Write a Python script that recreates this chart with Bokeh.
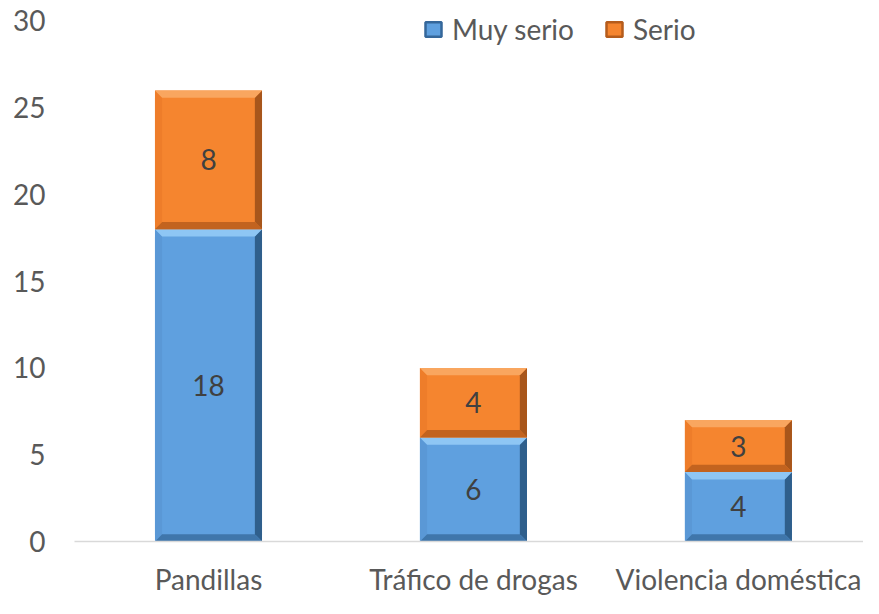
import numpy as np
from bokeh.plotting import figure
from bokeh.models import Range1d, FixedTicker, Legend, LegendItem, ColumnDataSource
from bokeh.core.properties import value
from bokeh.embed import file_html
from bokeh.resources import INLINE

categories = ["Pandillas", "Tráfico de drogas", "Violencia doméstica"]
muy_serio = [18, 6, 4]
serio = [8, 4, 3]
series_names = ["Muy serio", "Serio"]
y_ticks = [0, 5, 10, 15, 20, 25, 30]

FONT = "Lato"
TXT = "#595959"
LBL = "#404040"

p = figure(width=863, height=598, output_backend="svg", toolbar_location=None,
           x_range=Range1d(-0.5057, 2.472), y_range=Range1d(0, 31.18),
           min_border_left=74, min_border_right=0, min_border_top=0, min_border_bottom=57)
p.outline_line_color = None
p.xgrid.grid_line_color = None
p.ygrid.grid_line_color = None
p.background_fill_color = "white"
p.border_fill_color = "white"

# axes
p.yaxis.ticker = FixedTicker(ticks=y_ticks)
p.yaxis.axis_line_color = None
p.yaxis.major_tick_line_color = None
p.yaxis.minor_tick_line_color = None
p.yaxis.major_label_standoff = 23
p.yaxis.major_label_text_font = FONT
p.yaxis.major_label_text_font_size = "28px"
p.yaxis.major_label_text_color = TXT

xs = list(range(len(categories)))
p.xaxis.ticker = FixedTicker(ticks=xs)
p.xaxis.major_label_overrides = {i: c for i, c in enumerate(categories)}
p.xaxis.axis_line_color = "#d9d9d9"
p.xaxis.axis_line_width = 1.5
p.xaxis.major_tick_line_color = None
p.xaxis.minor_tick_line_color = None
p.xaxis.major_label_standoff = 14
p.xaxis.major_label_text_font = FONT
p.xaxis.major_label_text_font_size = "28px"
p.xaxis.major_label_text_color = TXT

bar_w = 0.404
dx = 0.027   # bevel depth (category units)
dy = 0.42    # bevel depth (value units)

palettes = {
    "Muy serio": dict(base="#5fa0df", top="#8ec6f4", left="#5a98d6", right="#2f5f8c",
                      bottom="#3f76ab", edge="#35679a"),
    "Serio": dict(base="#f5852f", top="#f9a65f", left="#ee7d2a", right="#a8561b",
                  bottom="#c2631f", edge="#b55c1c"),
}

def beveled(x_c, y0, y1, pal):
    x0 = np.array(x_c) - bar_w / 2
    x1 = np.array(x_c) + bar_w / 2
    y0 = np.array(y0, dtype=float)
    y1 = np.array(y1, dtype=float)
    src = ColumnDataSource(dict(left=x0, right=x1, bottom=y0, top=y1))
    p.quad(left="left", right="right", bottom="bottom", top="top", source=src,
           fill_color=pal["base"], line_color=None)
    top_x, top_y, lx, ly, rx, ry, bx, by = [], [], [], [], [], [], [], []
    for a, b, c, d in zip(x0, x1, y0, y1):
        top_x.append([a, b, b - dx, a + dx]); top_y.append([d, d, d - dy, d - dy])
        lx.append([a, a + dx, a + dx, a]); ly.append([c, c + dy, d - dy, d])
        rx.append([b, b - dx, b - dx, b]); ry.append([c, c + dy, d - dy, d])
        bx.append([a, b, b - dx, a + dx]); by.append([c, c, c + dy, c + dy])
    p.patches(lx, ly, fill_color=pal["left"], line_color=None)
    p.patches(rx, ry, fill_color=pal["right"], line_color=None)
    p.patches(bx, by, fill_color=pal["bottom"], line_color=None)
    p.patches(top_x, top_y, fill_color=pal["top"], line_color=None)
    # legend proxy (not drawn in the plot area: NaN data)
    leg = p.quad(left=[np.nan], right=[np.nan], bottom=[np.nan], top=[np.nan],
                 fill_color=pal["base"], line_color=pal["edge"], line_width=2.5)
    return leg

bottoms0 = [0] * len(categories)
tops0 = muy_serio
tops1 = [a + b for a, b in zip(muy_serio, serio)]

r_blue = beveled(xs, bottoms0, tops0, palettes["Muy serio"])
r_orange = beveled(xs, tops0, tops1, palettes["Serio"])

# data labels
lab_src = ColumnDataSource(dict(
    x=xs + xs,
    y=[v / 2 for v in muy_serio] + [m + s / 2 for m, s in zip(muy_serio, serio)],
    t=[str(v) for v in muy_serio] + [str(v) for v in serio],
))
p.text(x="x", y="y", text="t", source=lab_src, text_align="center", text_baseline="middle",
       text_font=value(FONT), text_font_size="28px", text_color=LBL)

legend = Legend(items=[LegendItem(label=series_names[0], renderers=[r_blue]),
                       LegendItem(label=series_names[1], renderers=[r_orange])],
                orientation="horizontal", location=(349, 495), padding=0, margin=0,
                spacing=30, label_standoff=9, glyph_width=20, glyph_height=18,
                label_text_font=FONT, label_text_font_size="28px", label_text_color=TXT,
                border_line_color=None, background_fill_alpha=0)
p.add_layout(legend, "center")

open("out.html", "w").write(file_html(p, INLINE))
